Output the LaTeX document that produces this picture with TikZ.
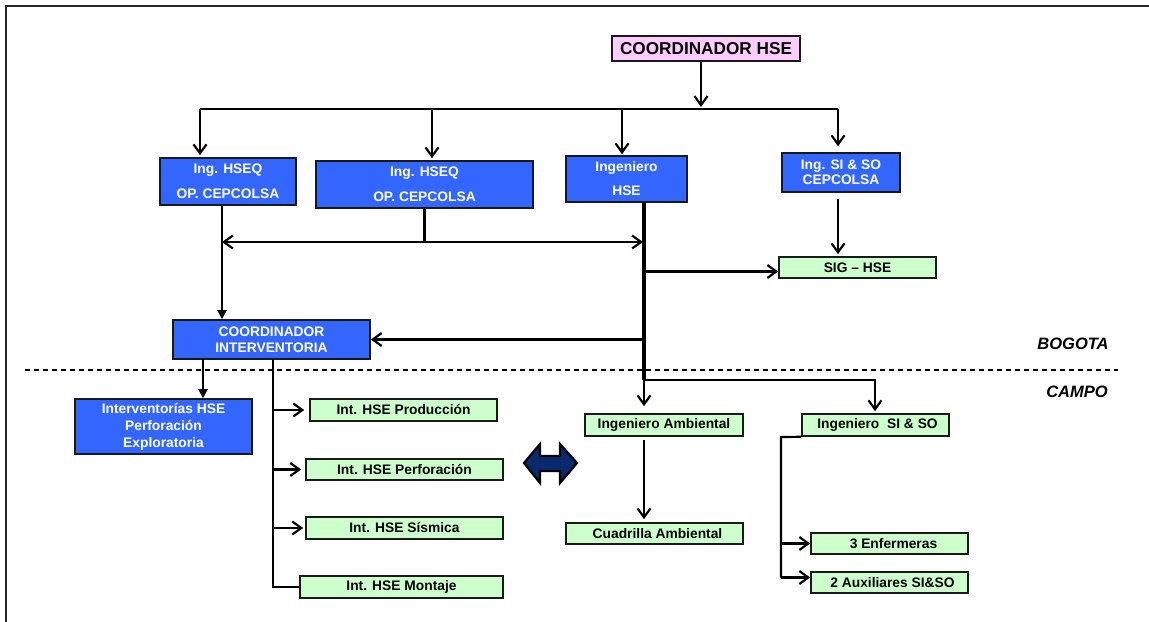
\documentclass[tikz,border=0pt]{standalone}
\usepackage{fontspec}
\setmainfont{Liberation Sans}
\usetikzlibrary{arrows.meta,calc}
\definecolor{bluefill}{HTML}{3366FF}
\definecolor{greenfill}{HTML}{CCFFCC}
\definecolor{pinkfill}{HTML}{FFCCFF}
\definecolor{navyfill}{HTML}{0A2A6E}
\tikzset{
  box/.style={draw=black!90, line width=1.6bp, inner sep=0pt, align=center},
  bluebox/.style={box, fill=bluefill, text=white, font=\bfseries\fontsize{13.8bp}{#1}\selectfont},
  greenbox/.style={box, fill=greenfill, text=black, font=\bfseries\fontsize{13.8bp}{16bp}\selectfont},
  pinkbox/.style={box, fill=pinkfill, text=black, font=\bfseries\fontsize{17.2bp}{20bp}\selectfont},
  lbl/.style={inner sep=0pt, font=\bfseries\itshape\fontsize{16.5bp}{19bp}\selectfont},
  ln/.style={line width=2.2bp},
  thickln/.style={line width=3.2bp},
  arr/.style={ln, -{Straight Barb[length=9bp,width=13bp]}},
  biarr/.style={ln, {Straight Barb[length=9bp,width=13bp]}-{Straight Barb[length=9bp,width=13bp]}},
  tri/.style={ln, -{Triangle[length=9bp,width=9bp]}},
  frame/.style={line width=1.8bp, black!85},
  sep/.style={line width=1.7bp, dash pattern=on 5bp off 4bp},
}
\begin{document}
\begin{tikzpicture}[x=1bp,y=-1bp]
\useasboundingbox (0,0) rectangle (1149,622);
\draw[frame] (6,622) -- (6,6) -- (1149,6);

% nodes
\node[pinkbox, minimum width=188bp, minimum height=25bp] (coord) at (706,48.5) {COORDINADOR HSE};
\node[bluebox=25bp, minimum width=136bp, minimum height=47bp] (b1) at (228,181.5) {Ing. HSEQ\\OP. CEPCOLSA};
\node[bluebox=25bp, minimum width=217bp, minimum height=47bp] (b2) at (424.5,184.5) {Ing. HSEQ\\OP. CEPCOLSA};
\node[bluebox=24bp, minimum width=121bp, minimum height=46bp] (b3) at (626.5,179) {Ingeniero\\HSE};
\node[bluebox=15bp, minimum width=118bp, minimum height=39bp] (b4) at (841,172.5) {Ing. SI \& SO\\CEPCOLSA};
\node[greenbox, minimum width=157bp, minimum height=21bp] (sig) at (857.5,267.5) {SIG -- HSE};
\node[bluebox=16bp, minimum width=197bp, minimum height=39bp] (ci) at (271.5,339.5) {COORDINADOR\\INTERVENTORIA};
\node[bluebox=17bp, minimum width=177bp, minimum height=55bp] (iv) at (163.5,426.5) {Interventorías HSE\\Perforación\\Exploratoria};
\node[greenbox, minimum width=187bp, minimum height=22bp] (g1) at (403.5,410) {Int. HSE Producción};
\node[greenbox, minimum width=197bp, minimum height=21bp] (g2) at (404.5,469.5) {Int. HSE Perforación};
\node[greenbox, minimum width=197bp, minimum height=22bp] (g3) at (404.5,528) {Int. HSE Sísmica};
\node[greenbox, minimum width=203bp, minimum height=22bp] (g4) at (401.5,587) {Int. HSE Montaje};
\node[greenbox, minimum width=158bp, minimum height=22bp] (ia) at (664,425) {Ingeniero Ambiental};
\node[greenbox, minimum width=147bp, minimum height=22bp] (isi) at (875.5,425) {\hspace{4bp}Ingeniero\ \ SI \& SO};
\node[greenbox, minimum width=177bp, minimum height=21bp] (cua) at (654.5,533.5) {\hspace{6bp}Cuadrilla Ambiental};
\node[greenbox, minimum width=157bp, minimum height=21bp] (enf) at (889.5,543.5) {\hspace{8bp}3 Enfermeras};
\node[greenbox, minimum width=157bp, minimum height=21bp] (aux) at (889.5,582.5) {\hspace{6bp}2 Auxiliares SI\&SO};
\node[lbl] (bog) at (1073,344) {BOGOTA};
\node[lbl] (cam) at (1077,392) {CAMPO};

% separator
\draw[sep] (25,370) -- (1118,370);

% top distribution
\coordinate (cA) at (701,107);
\draw[arr] (coord.south -| cA) -- (cA);
\coordinate (busL) at (200,109);
\coordinate (bus2) at (432,109);
\coordinate (bus3) at (622,109);
\coordinate (busR) at (838,109);
\draw[ln] (busL) -- (busR);
\draw[arr, shorten >=2bp] (busL) -- (busL |- b1.north);
\draw[arr, shorten >=2bp] (bus2) -- (bus2 |- b2.north);
\draw[arr, shorten >=1bp] (bus3) -- (bus3 |- b3.north);
\draw[arr, shorten >=6bp] (busR) -- (busR |- b4.north);

% middle links
\coordinate (hL) at (222,242);
\coordinate (hR) at (643,242);
\draw[biarr] (hL) -- (hR);
\draw[ln] (b2.south) -- (b2.south |- hL);
\draw[tri] (b1.south -| hL) -- (hL |- ci.north);
\draw[arr, shorten >=2bp] ([yshift=-6bp]b4.south -| busR) -- (busR |- sig.north);

\coordinate (vx) at (644,380);
\draw[thickln] (b3.south -| vx) -- (vx);
\coordinate (sigA) at ([yshift=-4bp]sig.west);
\draw[arr] (vx |- sigA) -- (sigA);
\draw[arr] (vx |- ci.east) -- (ci.east);

% campo right
\coordinate (sx) at (875,380);
\draw[arr, shorten >=2bp] (vx) -- (sx) -- (sx |- isi.north);
\draw[arr, shorten >=7bp] (vx) -- (vx |- ia.north);
\draw[arr, shorten <=3bp, shorten >=3bp] (vx |- ia.south) -- (vx |- cua.north);

\coordinate (sp) at (781,437);
\coordinate (auxA) at ([yshift=5bp]aux.west);
\draw[ln] (isi.south west) -- (sp) -- (sp |- auxA);
\draw[arr] (sp |- enf.west) -- (enf.west);
\draw[arr] (sp |- auxA) -- (auxA);

% campo left
\coordinate (civ) at (203,359);
\draw[tri] (civ) -- (civ |- iv.north);
\coordinate (sp1) at (273,359);
\draw[ln] (sp1) |- (g4.west);
\draw[arr, shorten >=5bp] (sp1 |- g1.west) -- (g1.west);
\draw[arr, shorten >=4bp] (sp1 |- g2.west) -- (g2.west);
\draw[arr, shorten >=2bp] (sp1 |- g3.west) -- (g3.west);

% double navy arrow
\filldraw[fill=navyfill, draw=black, line width=2.2bp, line join=miter]
  (524,463) -- (540,444) -- (540,456) -- (560,456) -- (560,444) -- (577,463)
  -- (560,483) -- (560,471) -- (540,471) -- (540,483) -- cycle;
\end{tikzpicture}
\end{document}
